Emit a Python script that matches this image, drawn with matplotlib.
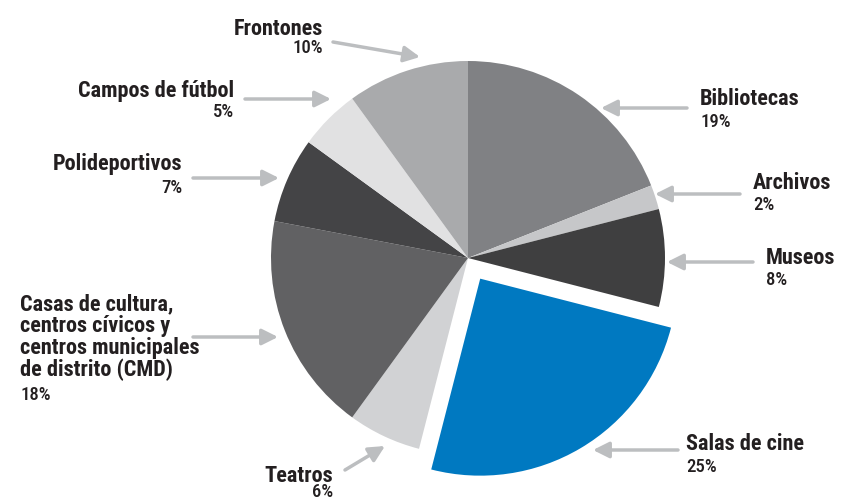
import matplotlib
matplotlib.use('Agg')
from matplotlib import pyplot as plt

# data
categorias = ['Bibliotecas', 'Archivos', 'Museos', 'Salas de cine', 'Teatros',
              'Casas de cultura,\ncentros cívicos y\ncentros municipales\nde distrito (CMD)',
              'Polideportivos', 'Campos de fútbol', 'Frontones']
porcentajes = [19, 2, 8, 25, 6, 18, 7, 5, 10]
colores = ['#808184', '#c6c7c9', '#3f3f40', '#0079c1', '#d1d2d4',
           '#616163', '#444446', '#e1e1e2', '#a9aaac']

W, H = 842, 499
plt.rcParams['font.family'] = ['Roboto Condensed', 'DejaVu Sans']

fig = plt.figure(figsize=(W / 100, H / 100), dpi=100)
ax = fig.add_axes([0, 0, 1, 1])

explode = [24 if c == 'Salas de cine' else 0 for c in categorias]
ax.pie(porcentajes, colors=colores, startangle=90, counterclock=False,
       center=(468, H - 258), radius=197, explode=explode,
       wedgeprops=dict(linewidth=0))
ax.set_xlim(0, W)
ax.set_ylim(0, H)
ax.set_aspect('equal')
ax.axis('off')

# layout (image pixel coords): text x, name baseline, pct baseline, align, arrow start, arrow tip
layout = [
    (700, 105, 127, 'left', (687, 108), (601, 108)),
    (753, 189, 210, 'left', (740, 194), (655, 194)),
    (766, 264, 285, 'left', (753, 262), (667, 262)),
    (686, 450, 472, 'left', (678, 450), (593, 450)),
    (333, 482, 497, 'right', (345, 470), (385, 446)),
    (20, 376, 400, 'left', (193, 337), (278, 337)),
    (182, 170, 193, 'right', (193, 178), (279, 178)),
    (234, 97, 117, 'right', (245, 99), (331, 99)),
    (323, 35, 53, 'right', (333, 42), (420, 57)),
]

txt = '#231f20'
for cat, pct, (x, yn, yp, ha, p0, p1) in zip(categorias, porcentajes, layout):
    ax.text(x, H - yn, cat, ha=ha, va='baseline', fontsize=16,
            fontweight='bold', color=txt, linespacing=0.98)
    ax.text(x, H - yp, f'{pct}%', ha=ha, va='baseline', fontsize=13.5,
            fontweight='medium', color=txt)
    ax.annotate('', xy=(p1[0], H - p1[1]), xytext=(p0[0], H - p0[1]),
                arrowprops=dict(arrowstyle='-|>', color='#bcbec0', lw=2.5,
                                mutation_scale=24, shrinkA=0, shrinkB=0))

fig.savefig('out.png', dpi=100)
